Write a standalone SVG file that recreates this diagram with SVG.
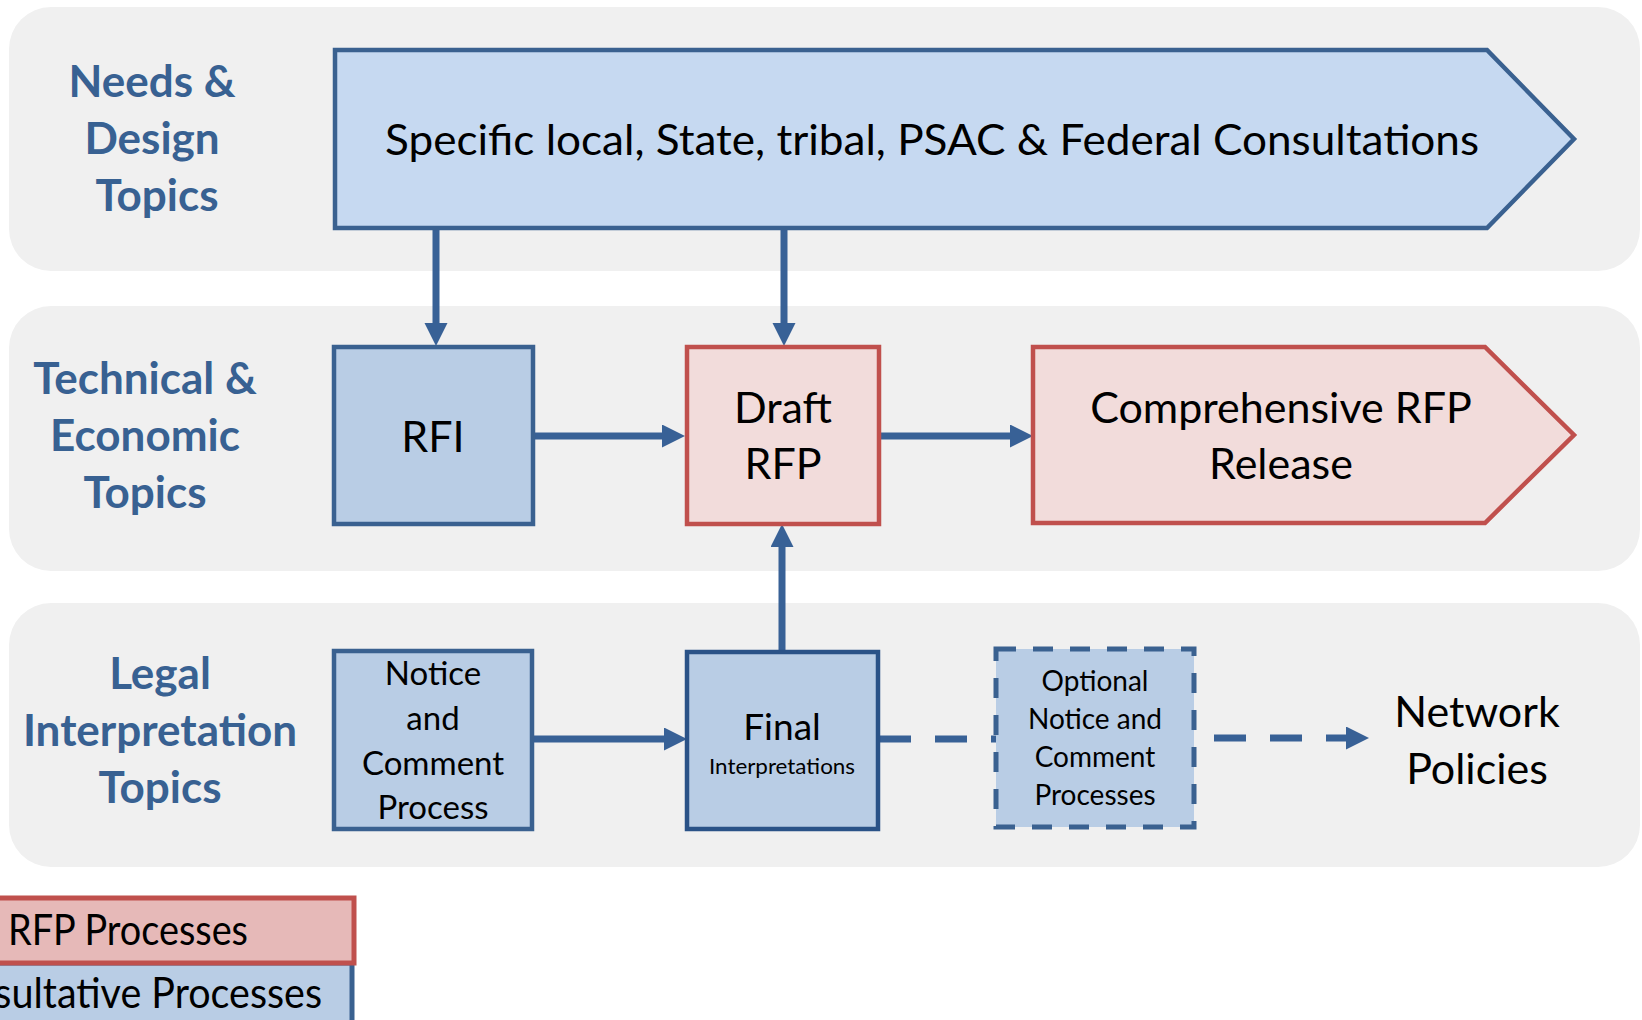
<svg xmlns="http://www.w3.org/2000/svg" width="1642" height="1020" viewBox="0 0 1642 1020">
<style>
.band{fill:#F0F0F0}
.lbl{font-family:Lato,"Liberation Sans",sans-serif;font-weight:bold;font-size:44px;fill:#386192;text-anchor:middle}
.t{font-family:Lato,"Liberation Sans",sans-serif;fill:#000;text-anchor:middle}
.blue{fill:#B9CDE5;stroke:#3A6190;stroke-width:4.5}
.pink{fill:#F2DCDB;stroke:#C0504D;stroke-width:4.5}
.conn{stroke:#386196;stroke-width:7;fill:none}
.dash{stroke-dasharray:32 24}
</style>
<defs>
<marker id="ah" markerUnits="userSpaceOnUse" markerWidth="24" markerHeight="24" refX="0" refY="11.5" orient="auto" viewBox="0 0 24 24">
<path d="M0,0 L23,11.5 L0,23 Z" fill="#386196"/>
</marker>
</defs>
<rect width="1642" height="1020" fill="#FFFFFF"/>
<g id="bands">
<rect class="band" x="9" y="7" width="1631" height="264" rx="42"/>
<rect class="band" x="9" y="306" width="1631" height="265" rx="42"/>
<rect class="band" x="9" y="603" width="1631" height="264" rx="42"/>
</g>
<g id="label-needs">
<text class="lbl" x="152" y="97">Needs &amp;</text>
<text class="lbl" x="152" y="154">Design</text>
<text class="lbl" x="157" y="211">Topics</text>
</g>
<g id="label-technical">
<text class="lbl" x="145" y="394">Technical &amp;</text>
<text class="lbl" x="145" y="451">Economic</text>
<text class="lbl" x="145" y="508">Topics</text>
</g>
<g id="label-legal">
<text class="lbl" x="160" y="689">Legal</text>
<text class="lbl" x="160" y="746">Interpretation</text>
<text class="lbl" x="160" y="803">Topics</text>
</g>
<g id="connectors">
<line class="conn" x1="436" y1="228" x2="436" y2="323" marker-end="url(#ah)"/>
<line class="conn" x1="784" y1="228" x2="784" y2="323" marker-end="url(#ah)"/>
<line class="conn" x1="533" y1="436" x2="662" y2="436" marker-end="url(#ah)"/>
<line class="conn" x1="879" y1="436" x2="1010" y2="436" marker-end="url(#ah)"/>
<line class="conn" x1="782" y1="650" x2="782" y2="547" marker-end="url(#ah)"/>
<line class="conn" x1="533" y1="739" x2="664" y2="739" marker-end="url(#ah)"/>
<line class="conn dash" x1="879" y1="739" x2="996" y2="739"/>
<line class="conn dash" x1="1214" y1="738" x2="1346" y2="738" marker-end="url(#ah)"/>
</g>
<g id="consultations">
<polygon points="335,50 1487,50 1574,139 1487,228 335,228" fill="#C6D9F1" stroke="#3A6190" stroke-width="4.5"/>
<text class="t" x="932" y="155" font-size="43" textLength="1094" lengthAdjust="spacingAndGlyphs">Specific local, State, tribal, PSAC &amp; Federal Consultations</text>
</g>
<g id="rfi">
<rect class="blue" x="334" y="347" width="199" height="177"/>
<text class="t" x="433" y="452" font-size="43">RFI</text>
</g>
<g id="draft-rfp">
<rect class="pink" x="687" y="347" width="192" height="177"/>
<text class="t" x="783" y="423" font-size="43">Draft</text>
<text class="t" x="783" y="479" font-size="43">RFP</text>
</g>
<g id="comprehensive-rfp">
<polygon class="pink" points="1033,347 1485,347 1574,435 1485,523 1033,523"/>
<text class="t" x="1281" y="423" font-size="43">Comprehensive RFP</text>
<text class="t" x="1281" y="479" font-size="43">Release</text>
</g>
<g id="notice-comment">
<rect class="blue" x="334" y="651" width="198" height="178"/>
<text class="t" x="433" y="685" font-size="33">Notice</text>
<text class="t" x="433" y="730" font-size="33">and</text>
<text class="t" x="433" y="775" font-size="33">Comment</text>
<text class="t" x="433" y="819" font-size="33">Process</text>
</g>
<g id="final">
<rect x="687" y="652" width="191" height="177" fill="#B9CDE5" stroke="#2A5287" stroke-width="4.5"/>
<text class="t" x="782" y="740" font-size="37">Final</text>
<text class="t" x="782" y="774" font-size="21" textLength="146" lengthAdjust="spacingAndGlyphs">Interpretations</text>
</g>
<g id="optional">
<rect x="996" y="649" width="198" height="178" fill="#B9CDE5" stroke="#3A6190" stroke-width="5" stroke-dasharray="20 17"/>
<text class="t" x="1095" y="691" font-size="28">Optional</text>
<text class="t" x="1095" y="729" font-size="28">Notice and</text>
<text class="t" x="1095" y="767" font-size="28">Comment</text>
<text class="t" x="1095" y="805" font-size="28">Processes</text>
</g>
<g id="network-policies">
<text class="t" x="1477" y="727" font-size="43">Network</text>
<text class="t" x="1477" y="784" font-size="43">Policies</text>
</g>
<g id="legend">
<rect x="-10" y="963" width="362" height="80" fill="#B9CDE5" stroke="#3A6190" stroke-width="5"/>
<rect x="-10" y="898" width="364" height="65" fill="#E6B9B8" stroke="#C0504D" stroke-width="5"/>
<text class="t" x="8" y="945" font-size="43" style="text-anchor:start" textLength="240" lengthAdjust="spacingAndGlyphs">RFP Processes</text>
<text class="t" x="-76" y="1008" font-size="43" style="text-anchor:start" textLength="398" lengthAdjust="spacingAndGlyphs">Consultative Processes</text>
</g>
</svg>
